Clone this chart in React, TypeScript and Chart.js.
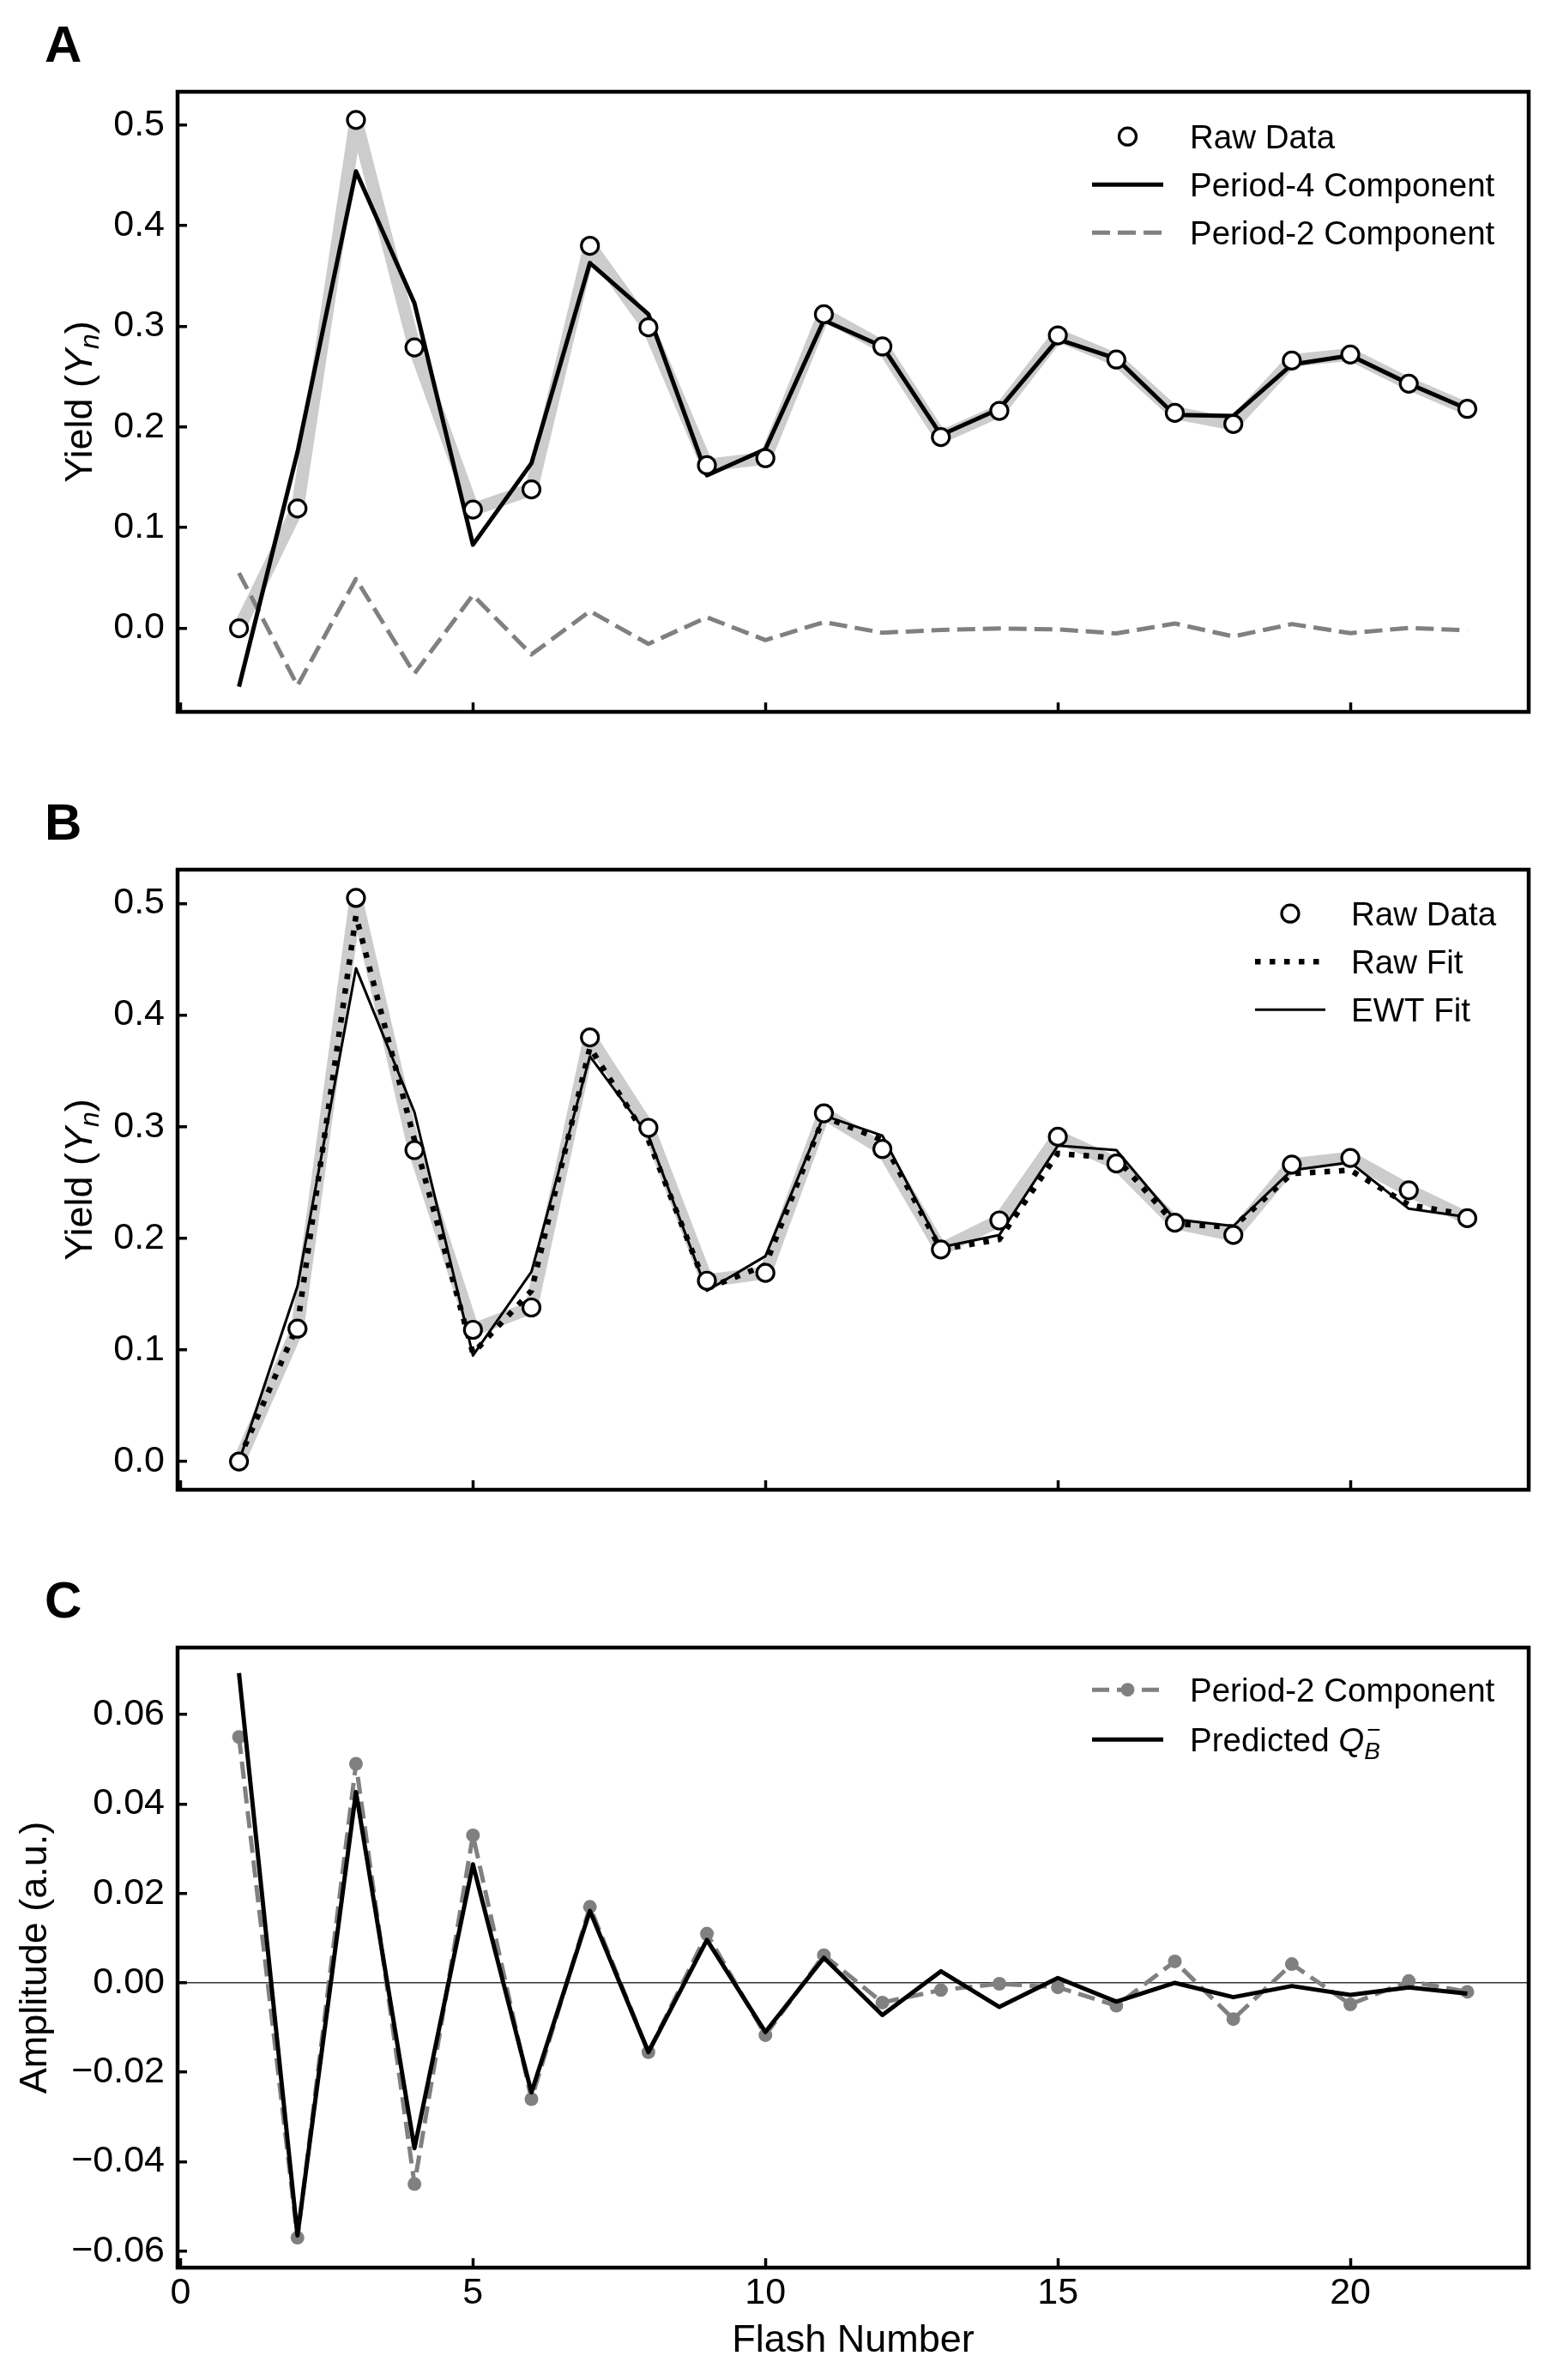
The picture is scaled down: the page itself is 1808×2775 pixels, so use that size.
import { useEffect, useRef } from 'react';
import { Chart, registerables } from 'chart.js';

Chart.register(...registerables);

const FONT = "'Liberation Sans', Arial, Helvetica, sans-serif";

// ---------- data ----------
const flashNumbers = [1, 2, 3, 4, 5, 6, 7, 8, 9, 10, 11, 12, 13, 14, 15, 16, 17, 18, 19, 20, 21, 22];
const rawYield = [0.0, 0.119, 0.505, 0.279, 0.118, 0.138, 0.38, 0.299, 0.162, 0.169, 0.312, 0.28, 0.19, 0.216, 0.291, 0.267, 0.214, 0.203, 0.266, 0.272, 0.243, 0.218];
const period4 = [-0.058, 0.175, 0.454, 0.323, 0.083, 0.164, 0.363, 0.312, 0.152, 0.178, 0.306, 0.28, 0.192, 0.218, 0.287, 0.268, 0.212, 0.211, 0.262, 0.271, 0.243, 0.218];
const period2 = [0.055, -0.057, 0.049, -0.045, 0.033, -0.026, 0.017, -0.0155, 0.011, -0.0117, 0.0062, -0.0044, -0.0016, -0.0002, -0.001, -0.0051, 0.0048, -0.0081, 0.0042, -0.0048, 0.0004, -0.002];
const rawFit = [0.002, 0.122, 0.489, 0.288, 0.097, 0.153, 0.371, 0.288, 0.155, 0.176, 0.309, 0.288, 0.19, 0.199, 0.276, 0.272, 0.213, 0.21, 0.258, 0.261, 0.23, 0.221];
const ewtFit = [0.0, 0.157, 0.442, 0.313, 0.095, 0.17, 0.363, 0.292, 0.153, 0.184, 0.31, 0.292, 0.192, 0.203, 0.283, 0.279, 0.217, 0.211, 0.261, 0.268, 0.2265, 0.219];
const predictedQB = [0.0693, -0.0565, 0.0427, -0.037, 0.0265, -0.0245, 0.0161, -0.0155, 0.0096, -0.011, 0.0056, -0.0072, 0.0026, -0.0054, 0.0011, -0.0042, 0.0, -0.0032, -0.0007, -0.0027, -0.001, -0.0024];

const xTicks = [0, 5, 10, 15, 20];
const yTicksAB = [0.0, 0.1, 0.2, 0.3, 0.4, 0.5];
const yTicksC = [-0.06, -0.04, -0.02, 0.0, 0.02, 0.04, 0.06];

const xRange = [-0.05, 23.05];
const yRangeA = [-0.083, 0.533];
const yRangeB = [-0.0253, 0.5303];
const yRangeC = [-0.0637, 0.075];

// ---------- layout constants ----------
const W = 1808;
const AREA_LEFT = 207;
const AREA_RIGHT = 1782;
const AREA_TOP = 107;
const AREA_BOTTOM = 830;
const TICK_FONT = 43;
const LABEL_FONT = 45;
const LEGEND_FONT = 38.5;

type Seg = { t: string; italic?: boolean; size?: number; dy?: number; overlay?: boolean; dx?: number };

function drawRich(ctx: CanvasRenderingContext2D, segs: Seg[], x: number, y: number, base: number, measureOnly = false) {
  let cx = x;
  let prevStart = x;
  for (const s of segs) {
    const size = s.size ?? base;
    ctx.font = `${s.italic ? 'italic ' : ''}${size}px ${FONT}`;
    const w = ctx.measureText(s.t).width;
    const sx = s.overlay ? prevStart + (s.dx ?? 0) : cx + (s.dx ?? 0);
    if (!measureOnly) ctx.fillText(s.t, sx, y + (s.dy ?? 0));
    if (s.overlay) {
      cx = Math.max(cx, sx + w);
    } else {
      prevStart = sx;
      cx = sx + w;
    }
  }
  return cx - x;
}

type LegendRow = { dataset: number; segs: Seg[]; baseline: number };
type Decor = {
  letter: string;
  yTitle: Seg[];
  yTitleBaselineX: number;
  legendSample: [number, number];
  legendTextX: number;
  rows: LegendRow[];
};

function makeDecor(spec: Decor) {
  return {
    id: 'decor',
    afterDraw(chart: any) {
      const ctx: CanvasRenderingContext2D = chart.ctx;
      const area = chart.chartArea;
      ctx.save();
      // frame
      ctx.strokeStyle = '#000';
      ctx.lineWidth = 4.5;
      ctx.strokeRect(area.left, area.top, area.right - area.left, area.bottom - area.top);
      // panel letter
      ctx.fillStyle = '#000';
      ctx.textBaseline = 'alphabetic';
      ctx.textAlign = 'left';
      ctx.font = `bold 60px ${FONT}`;
      ctx.fillText(spec.letter, 52, 72);
      // y title (rotated)
      ctx.save();
      const cy = (area.top + area.bottom) / 2;
      ctx.translate(spec.yTitleBaselineX, cy);
      ctx.rotate(-Math.PI / 2);
      const tw = drawRich(ctx, spec.yTitle, 0, 0, LABEL_FONT, true);
      drawRich(ctx, spec.yTitle, -tw / 2, 0, LABEL_FONT);
      ctx.restore();
      // legend
      for (const row of spec.rows) {
        const ds = chart.data.datasets[row.dataset];
        const yMid = row.baseline - 0.358 * LEGEND_FONT;
        const [x0, x1] = spec.legendSample;
        if (ds.showLine !== false) {
          ctx.save();
          ctx.beginPath();
          ctx.strokeStyle = ds.borderColor;
          ctx.lineWidth = ds.borderWidth;
          ctx.setLineDash(ds.borderDash || []);
          ctx.lineCap = 'butt';
          ctx.moveTo(x0, yMid);
          ctx.lineTo(x1, yMid);
          ctx.stroke();
          ctx.restore();
        }
        if (ds.pointRadius > 0) {
          ctx.save();
          ctx.beginPath();
          ctx.arc((x0 + x1) / 2, yMid, ds.pointRadius, 0, Math.PI * 2);
          ctx.fillStyle = ds.pointBackgroundColor;
          ctx.fill();
          if (ds.pointBorderWidth > 0) {
            ctx.lineWidth = ds.pointBorderWidth;
            ctx.strokeStyle = ds.pointBorderColor;
            ctx.stroke();
          }
          ctx.restore();
        }
        ctx.fillStyle = '#000';
        drawRich(ctx, row.segs, spec.legendTextX, row.baseline, LEGEND_FONT);
      }
      ctx.restore();
    },
  };
}

const pts = (ys: number[]) => ys.map((y, i) => ({ x: flashNumbers[i], y }));

function xScale(showLabels: boolean, height: number, title?: string) {
  return {
    type: 'linear',
    position: 'bottom',
    min: xRange[0],
    max: xRange[1],
    afterBuildTicks: (s: any) => {
      s.ticks = xTicks.map((v) => ({ value: v }));
    },
    afterFit: (s: any) => {
      s.height = height;
    },
    grid: { drawOnChartArea: false, drawTicks: true, tickLength: -11, tickWidth: 3.5, tickColor: '#000', color: '#000' },
    border: { display: false },
    ticks: {
      display: showLabels,
      padding: 15,
      color: '#000',
      font: { family: FONT, size: TICK_FONT },
      maxRotation: 0,
      autoSkip: false,
      callback: (v: any) => String(v),
    },
    title: title
      ? { display: true, text: title, color: '#000', font: { family: FONT, size: LABEL_FONT }, padding: { top: 0, bottom: 18 } }
      : { display: false },
  };
}

function yScale(range: number[], ticks: number[], digits: number, zeroLine: boolean) {
  return {
    type: 'linear',
    position: 'left',
    min: range[0],
    max: range[1],
    afterBuildTicks: (s: any) => {
      s.ticks = ticks.map((v) => ({ value: v }));
    },
    afterFit: (s: any) => {
      s.width = AREA_LEFT;
    },
    grid: {
      drawOnChartArea: zeroLine,
      drawTicks: true,
      tickLength: -11,
      tickWidth: 3.5,
      tickColor: '#000',
      lineWidth: 1.5,
      color: (c: any) => (zeroLine && c.tick && c.tick.value === 0 ? '#333' : 'rgba(0,0,0,0)'),
    },
    border: { display: false },
    ticks: {
      padding: 26,
      color: '#000',
      font: { family: FONT, size: TICK_FONT },
      autoSkip: false,
      callback: (v: any) => Number(v).toFixed(digits).replace('-', '\u2212'),
    },
  };
}

function baseOptions(scales: any) {
  return {
    responsive: false,
    animation: false,
    events: [],
    layout: { padding: { top: AREA_TOP, left: 0, right: W - AREA_RIGHT, bottom: 0 } },
    plugins: { legend: { display: false }, tooltip: { enabled: false } },
    scales,
  };
}

const bandStyle = {
  borderColor: '#cccccc',
  borderWidth: 15,
  pointRadius: 0,
  borderJoinStyle: 'round',
  borderCapStyle: 'round',
};

const rawMarkerStyle = {
  showLine: false,
  pointRadius: 10,
  pointBackgroundColor: '#ffffff',
  pointBorderColor: '#000000',
  pointBorderWidth: 3.2,
  borderColor: '#000000',
};

const H_AB = 907;
const H_C = 2775 - 2 * 907;

function configA() {
  return {
    type: 'line',
    data: {
      datasets: [
        { label: 'Raw Data', data: pts(rawYield), order: 1, ...rawMarkerStyle },
        { label: 'Period-4 Component', data: pts(period4), order: 2, borderColor: '#000', borderWidth: 5, pointRadius: 0, borderJoinStyle: 'round' },
        { label: 'Period-2 Component', data: pts(period2), order: 3, borderColor: '#808080', borderWidth: 5, borderDash: [21, 9], pointRadius: 0, borderJoinStyle: 'round' },
        { label: 'band', data: pts(rawYield), order: 4, ...bandStyle },
      ],
    },
    options: baseOptions({ x: xScale(false, H_AB - AREA_BOTTOM), y: yScale(yRangeA, yTicksAB, 1, false) }),
    plugins: [
      makeDecor({
        letter: 'A',
        yTitle: [{ t: 'Yield (' }, { t: 'Y', italic: true }, { t: 'n', italic: true, size: 32, dy: 8 }, { t: ')' }],
        yTitleBaselineX: 107,
        legendSample: [1273, 1356],
        legendTextX: 1387,
        rows: [
          { dataset: 0, segs: [{ t: 'Raw Data' }], baseline: 173 },
          { dataset: 1, segs: [{ t: 'Period-4 Component' }], baseline: 229 },
          { dataset: 2, segs: [{ t: 'Period-2 Component' }], baseline: 285 },
        ],
      }),
    ],
  };
}

function configB() {
  return {
    type: 'line',
    data: {
      datasets: [
        { label: 'Raw Data', data: pts(rawYield), order: 1, ...rawMarkerStyle },
        { label: 'Raw Fit', data: pts(rawFit), order: 3, borderColor: '#000', borderWidth: 6.5, borderDash: [6.5, 10.5], pointRadius: 0 },
        { label: 'EWT Fit', data: pts(ewtFit), order: 2, borderColor: '#000', borderWidth: 3, pointRadius: 0, borderJoinStyle: 'round' },
        { label: 'band', data: pts(rawYield), order: 4, ...bandStyle },
      ],
    },
    options: baseOptions({ x: xScale(false, H_AB - AREA_BOTTOM), y: yScale(yRangeB, yTicksAB, 1, false) }),
    plugins: [
      makeDecor({
        letter: 'B',
        yTitle: [{ t: 'Yield (' }, { t: 'Y', italic: true }, { t: 'n', italic: true, size: 32, dy: 8 }, { t: ')' }],
        yTitleBaselineX: 107,
        legendSample: [1463, 1545],
        legendTextX: 1575,
        rows: [
          { dataset: 0, segs: [{ t: 'Raw Data' }], baseline: 172 },
          { dataset: 1, segs: [{ t: 'Raw Fit' }], baseline: 228 },
          { dataset: 2, segs: [{ t: 'EWT Fit' }], baseline: 284 },
        ],
      }),
    ],
  };
}

function configC() {
  return {
    type: 'line',
    data: {
      datasets: [
        { label: 'Predicted QB-', data: pts(predictedQB), order: 1, borderColor: '#000', borderWidth: 5, pointRadius: 0, borderJoinStyle: 'round' },
        {
          label: 'Period-2 Component',
          data: pts(period2),
          order: 2,
          borderColor: '#808080',
          borderWidth: 5,
          borderDash: [20, 9],
          borderJoinStyle: 'round',
          pointRadius: 8,
          pointBackgroundColor: '#808080',
          pointBorderColor: '#808080',
          pointBorderWidth: 0,
        },
      ],
    },
    options: baseOptions({ x: xScale(true, H_C - AREA_BOTTOM, 'Flash Number'), y: yScale(yRangeC, yTicksC, 2, true) }),
    plugins: [
      makeDecor({
        letter: 'C',
        yTitle: [{ t: 'Amplitude (a.u.)' }],
        yTitleBaselineX: 54,
        legendSample: [1273, 1356],
        legendTextX: 1387,
        rows: [
          { dataset: 1, segs: [{ t: 'Period-2 Component' }], baseline: 170 },
          {
            dataset: 0,
            segs: [
              { t: 'Predicted ' },
              { t: 'Q', italic: true },
              { t: 'B', italic: true, size: 28, dy: 9 },
              { t: '\u2212', size: 28, dy: -16, overlay: true, dx: 3 },
            ],
            baseline: 228,
          },
        ],
      }),
    ],
  };
}

function Panel({ make, top, height }: { make: () => any; top: number; height: number }) {
  const ref = useRef<HTMLCanvasElement>(null);
  useEffect(() => {
    const chart = new Chart(ref.current as HTMLCanvasElement, make());
    return () => chart.destroy();
  }, []);
  return (
    <canvas
      ref={ref}
      width={W}
      height={height}
      style={{ position: 'absolute', left: 0, top, width: W, height, display: 'block' }}
    />
  );
}

export default function App() {
  return (
    <div style={{ position: 'absolute', left: 0, top: 0, width: W, height: 2775, background: '#fff' }}>
      <Panel make={configA} top={0} height={H_AB} />
      <Panel make={configB} top={H_AB} height={H_AB} />
      <Panel make={configC} top={2 * H_AB} height={H_C} />
    </div>
  );
}
